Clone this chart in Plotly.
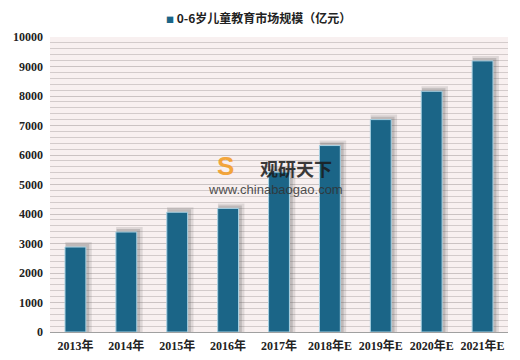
import plotly.graph_objects as go

categories = ["2013年", "2014年", "2015年", "2016年", "2017年", "2018年E", "2019年E", "2020年E", "2021年E"]
values = [2880, 3390, 4060, 4190, 5420, 6320, 7200, 8160, 9190]
series_name = "0-6岁儿童教育市场规模（亿元）"
y_ticks = [0, 1000, 2000, 3000, 4000, 5000, 6000, 7000, 8000, 9000, 10000]

num_font = "Liberation Serif, Noto Sans CJK SC, serif"
cjk_font = "Noto Sans CJK SC, sans-serif"
bar_color = "#1b6587"

fig = go.Figure()
# soft shadow behind bars (two layers to imitate blur)
fig.add_trace(go.Bar(x=categories, y=[v + 170 for v in values], width=0.52, offset=-0.2,
                     marker=dict(color="rgba(90,90,90,0.16)", line=dict(width=0)),
                     showlegend=False, hoverinfo="skip"))
fig.add_trace(go.Bar(x=categories, y=[v + 100 for v in values], width=0.46, offset=-0.19,
                     marker=dict(color="rgba(90,90,90,0.24)", line=dict(width=0)),
                     showlegend=False, hoverinfo="skip"))
fig.add_trace(go.Bar(x=categories, y=values, name=series_name, width=0.41, offset=-0.205,
                     marker=dict(color=bar_color, line=dict(color="#a9d2e3", width=1)),
                     showlegend=False))

# page body has an 8px default margin, so the figure is sized/offset to compensate
fig.update_layout(
    width=512, height=352,
    margin=dict(l=42, r=12, t=29, b=28, autoexpand=False),
    barmode="overlay",
    paper_bgcolor="white",
    plot_bgcolor="#f8f0f0",
    showlegend=False,
    font=dict(family=num_font, size=12, color="#222"),
    xaxis=dict(showline=True, linecolor="#a0a0a0", linewidth=1, ticks="", automargin=False,
               tickfont=dict(family=num_font, size=12, color="#222", weight="bold"),
               ticklabelstandoff=3, range=[-0.5, 8.5]),
    yaxis=dict(range=[0, 10000], tickvals=y_ticks, ticktext=[str(t) for t in y_ticks],
               showline=False, ticks="", automargin=False, ticklabelstandoff=6,
               showgrid=True, gridcolor="#cbc3c3", gridwidth=1, zeroline=False,
               tickfont=dict(family=num_font, size=12, color="#222", weight="bold"),
               minor=dict(dtick=200, showgrid=True, gridcolor="#d3cbcb", gridwidth=1)),
)

# legend as annotation
fig.add_annotation(xref="paper", yref="paper", x=0.455, y=1.0, yshift=20,
                   text=f"<span style='color:{bar_color};font-size:8px'>■</span> <b>{series_name}</b>",
                   showarrow=False, xanchor="center", yanchor="middle", borderpad=0,
                   font=dict(family=cjk_font, size=12, color="#222"))

# watermark
fig.add_annotation(xref="paper", yref="paper", x=0.537, y=0.555, text="<b>观研天下</b>",
                   showarrow=False, font=dict(family=cjk_font, size=18, color="#1a1a1a"),
                   xanchor="center", yanchor="middle", borderpad=0, opacity=0.85)
fig.add_annotation(xref="paper", yref="paper", x=0.493, y=0.482, text="www.chinabaogao.com",
                   showarrow=False, font=dict(family="Liberation Sans, sans-serif", size=13, color="#333"),
                   xanchor="center", yanchor="middle", borderpad=0, opacity=0.85)
fig.add_annotation(xref="paper", yref="paper", x=0.384, y=0.563, text="<b>S</b>",
                   showarrow=False, font=dict(family="Liberation Sans, sans-serif", size=26, color="#f39a1e"),
                   xanchor="center", yanchor="middle", borderpad=0, opacity=0.85)

fig.write_html("out.html")
